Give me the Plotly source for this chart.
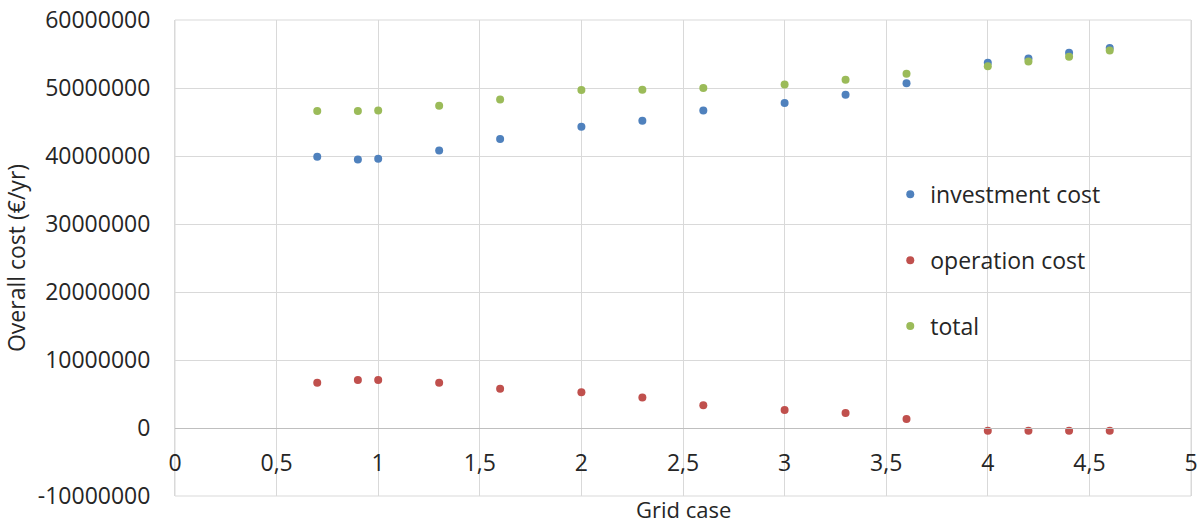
import plotly.graph_objects as go

grid_case = [0.7, 0.9, 1.0, 1.3, 1.6, 2.0, 2.3, 2.6, 3.0, 3.3, 3.6, 4.0, 4.2, 4.4, 4.6]
investment_cost = [39900000, 39500000, 39600000, 40800000, 42500000, 44300000, 45200000,
                   46700000, 47800000, 49000000, 50700000, 53700000, 54350000, 55200000, 55900000]
operation_cost = [6660000, 7060000, 7060000, 6660000, 5780000, 5240000, 4500000,
                  3330000, 2650000, 2200000, 1320000, -400000, -400000, -400000, -400000]
total_cost = [46600000, 46600000, 46700000, 47400000, 48300000, 49700000, 49750000,
              50000000, 50500000, 51200000, 52100000, 53200000, 53900000, 54600000, 55500000]

y_tick_values = [-10000000, 0, 10000000, 20000000, 30000000, 40000000, 50000000, 60000000]
y_tick_labels = ["-10000000", "0", "10000000", "20000000", "30000000",
                 "40000000", "50000000", "60000000"]
x_tick_values = [0, 0.5, 1, 1.5, 2, 2.5, 3, 3.5, 4, 4.5, 5]
x_tick_labels = ["0", "0,5", "1", "1,5", "2", "2,5", "3", "3,5", "4", "4,5", "5"]

series = [
    ("investment cost", investment_cost, "#4F81BD"),
    ("operation cost", operation_cost, "#C0504D"),
    ("total", total_cost, "#9BBB59"),
]

FONT = "Open Sans"
TXT = "#262626"
FS = 23
GRID = "#D9D9D9"

fig = go.Figure()
for name, vals, col in series:
    fig.add_trace(go.Scatter(
        x=grid_case, y=vals, mode="markers", name=name, legendgroup=name,
        marker=dict(color=col, size=8, line=dict(width=0)),
    ))

plot_top, plot_bottom = 20, 496
plot_h = plot_bottom - plot_top

fig.update_layout(
    width=1204, height=526,
    margin=dict(l=175, r=13, t=plot_top, b=526 - plot_bottom),
    paper_bgcolor="white", plot_bgcolor="white",
    font=dict(family=FONT, size=FS, color=TXT),
    showlegend=True,
    legend=dict(
        x=0.704, y=0.679, xanchor="left", yanchor="top",
        bgcolor="rgba(0,0,0,0)", font=dict(size=FS, color=TXT),
        traceorder="grouped", tracegroupgap=33, itemsizing="trace",
    ),
    xaxis=dict(
        range=[0, 5], tickmode="array", tickvals=x_tick_values, ticktext=x_tick_labels,
        showgrid=True, gridcolor=GRID, gridwidth=1,
        zeroline=False, showline=True, linecolor="#BFBFBF", linewidth=1,
        anchor="free", position=(plot_bottom - 428.3) / plot_h,
        ticks="outside", ticklen=14, tickcolor="rgba(0,0,0,0)",
        tickfont=dict(size=FS, color=TXT), automargin=False,
    ),
    yaxis=dict(
        range=[-10000000, 60000000], tickmode="array", tickvals=y_tick_values,
        ticktext=y_tick_labels,
        showgrid=True, gridcolor=GRID, gridwidth=1,
        zeroline=False, showline=True, linecolor=GRID, mirror=True,
        ticks="outside", ticklen=19, tickcolor="rgba(0,0,0,0)",
        tickfont=dict(size=FS, color=TXT), automargin=False,
        title=dict(text="Overall cost (€/yr)", font=dict(size=FS, color=TXT), standoff=6),
    ),
    shapes=[dict(
        type="rect", xref="paper", yref="paper", x0=0, x1=1, y0=0, y1=1,
        line=dict(color=GRID, width=1), fillcolor="rgba(0,0,0,0)", layer="below",
    )],
    annotations=[dict(
        text="Grid case", xref="paper", yref="paper", x=0.5, y=0,
        xanchor="center", yanchor="middle", yshift=-13, showarrow=False,
        borderpad=0, font=dict(size=22, color=TXT),
    )],
)

fig.write_html(
    "out.html",
    config={"displayModeBar": False},
    post_script="document.body.style.margin='0';document.body.style.overflow='hidden';",
)
